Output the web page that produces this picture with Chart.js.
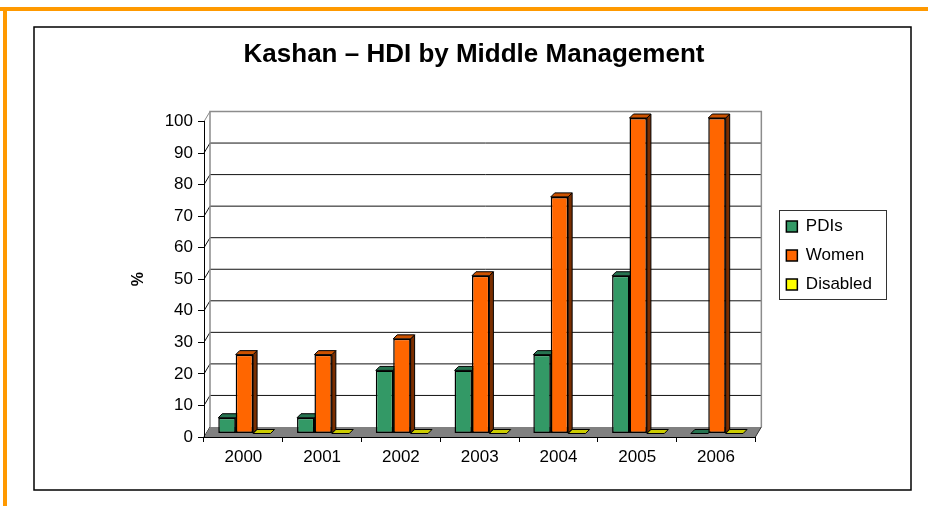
<!DOCTYPE html>
<html>
<head>
<meta charset="utf-8">
<script src="https://cdn.jsdelivr.net/npm/chart.js@4/dist/chart.umd.min.js"></script>
<style>
  html, body { margin: 0; padding: 0; background: #fff; }
  canvas { display: block; }
</style>
</head>
<body>
<canvas id="c" width="928" height="506"></canvas>
<script>
// ---- data ----
const chartTitle = 'Kashan \u2013 HDI by Middle Management';
const years = ['2000', '2001', '2002', '2003', '2004', '2005', '2006'];
const seriesNames = ['PDIs', 'Women', 'Disabled'];
const pdis = [5, 5, 20, 20, 25, 50, 0];
const women = [25, 25, 30, 50, 75, 100, 100];
const disabled = [0, 0, 0, 0, 0, 0, 0];
const yAxisTitle = '%';
const yMin = 0, yMax = 100, yStep = 10;

// ---- styles ----
const FONT = 'Liberation Sans, Arial, Helvetica, sans-serif';
const fronts = ['#339966', '#FF6600', '#FFFF00'];
const tops = ['#267350', '#CC5200', '#CCCC00'];
const sides = ['#1A4D33', '#7A2E00', '#999900'];
const WALL = { dx: 6, dy: -10 };
const BAR = { sx: 1, sy: -3.5, dx: 4, dy: -4 };

const threeD = {
  id: 'threeD',
  beforeDraw(chart) {
    const { ctx, chartArea: a, scales: { y } } = chart;
    ctx.save();
    // outer frame
    ctx.fillStyle = '#FF9900';
    ctx.fillRect(0, 7, 928, 4);
    ctx.fillRect(3, 7, 4, 499);
    ctx.strokeStyle = '#000';
    ctx.lineWidth = 1.5;
    ctx.strokeRect(34, 27, 877, 463);

    // back wall gridlines
    const wl = a.left + WALL.dx, wr = a.right + WALL.dx;
    for (let v = yMin; v <= yMax; v += yStep) {
      const yv = y.getPixelForValue(v);
      if (v > yMin && v < yMax) {
        ctx.strokeStyle = '#111';
        ctx.lineWidth = 1;
        ctx.beginPath();
        ctx.moveTo(wl, yv + WALL.dy);
        ctx.lineTo(wr, yv + WALL.dy);
        ctx.stroke();
      }
      // side wall diagonal
      ctx.strokeStyle = v === yMax ? '#888' : '#111';
      ctx.lineWidth = 1;
      ctx.beginPath();
      ctx.moveTo(a.left, yv);
      ctx.lineTo(wl, yv + WALL.dy);
      ctx.stroke();
    }
    // wall borders
    ctx.strokeStyle = '#8c8c8c';
    ctx.lineWidth = 1.5;
    ctx.beginPath();
    ctx.moveTo(wl, a.bottom + WALL.dy);
    ctx.lineTo(wl, a.top + WALL.dy);
    ctx.lineTo(wr, a.top + WALL.dy);
    ctx.lineTo(wr, a.bottom + WALL.dy);
    ctx.stroke();
    // floor
    ctx.fillStyle = '#808080';
    ctx.beginPath();
    ctx.moveTo(a.left, a.bottom);
    ctx.lineTo(a.right, a.bottom);
    ctx.lineTo(wr, a.bottom + WALL.dy);
    ctx.lineTo(wl, a.bottom + WALL.dy);
    ctx.closePath();
    ctx.fill();
    ctx.strokeStyle = '#333';
    ctx.lineWidth = 1;
    ctx.beginPath();
    ctx.moveTo(a.right, a.bottom);
    ctx.lineTo(wr, a.bottom + WALL.dy);
    ctx.stroke();
    ctx.restore();
  },
  beforeDatasetsDraw(chart) {
    const { ctx } = chart;
    ctx.save();
    ctx.translate(BAR.sx, BAR.sy);
    chart.data.datasets.forEach((ds, i) => {
      const meta = chart.getDatasetMeta(i);
      meta.data.forEach(bar => {
        const L = bar.x - bar.width / 2, R = bar.x + bar.width / 2;
        const T = Math.min(bar.y, bar.base), B = Math.max(bar.y, bar.base);
        ctx.strokeStyle = '#000';
        ctx.lineWidth = 1;
        // side face
        if (B - T > 0.5) {
          ctx.fillStyle = sides[i];
          ctx.beginPath();
          ctx.moveTo(R, T);
          ctx.lineTo(R + BAR.dx, T + BAR.dy);
          ctx.lineTo(R + BAR.dx, B + BAR.dy);
          ctx.lineTo(R, B);
          ctx.closePath();
          ctx.fill();
          ctx.stroke();
        }
        // top face
        ctx.fillStyle = tops[i];
        ctx.beginPath();
        ctx.moveTo(L, T);
        ctx.lineTo(L + BAR.dx, T + BAR.dy);
        ctx.lineTo(R + BAR.dx, T + BAR.dy);
        ctx.lineTo(R, T);
        ctx.closePath();
        ctx.fill();
        ctx.stroke();
      });
    });
  },
  afterDatasetsDraw(chart) {
    chart.ctx.restore();
  },
  afterDraw(chart) {
    const hb = chart.legend && chart.legend.legendHitBoxes;
    if (!hb || !hb.length) return;
    const { ctx } = chart;
    const last = hb[hb.length - 1];
    const bx = hb[0].left - 7;
    const by = hb[0].top - 8;
    const bw = 107;
    const bh = last.top + last.height + 6 - by;
    ctx.save();
    ctx.strokeStyle = '#333';
    ctx.lineWidth = 1;
    ctx.strokeRect(Math.round(bx) + 0.5, Math.round(by) + 0.5, bw, Math.round(bh));
    ctx.restore();
  }
};

const seriesValues = [pdis, women, disabled];
const datasets = seriesNames.map((name, i) => ({
  label: name,
  data: seriesValues[i],
  backgroundColor: fronts[i],
  borderColor: '#000',
  borderWidth: 1.5,
  borderSkipped: false,
  categoryPercentage: 0.663,
  barPercentage: 1.0,
  clip: false
}));

new Chart(document.getElementById('c'), {
  type: 'bar',
  data: { labels: years, datasets },
  plugins: [threeD],
  options: {
    responsive: false,
    animation: false,
    devicePixelRatio: 1,
    layout: { padding: { left: 66, right: 46, top: 36, bottom: 31 } },
    plugins: {
      title: {
        display: true,
        text: chartTitle,
        color: '#000',
        font: { family: FONT, size: 26, weight: 'bold', lineHeight: 1.2 },
        padding: { top: 3, bottom: 51.3 }
      },
      legend: {
        position: 'right',
        align: 'center',
        labels: {
          boxWidth: 11,
          boxHeight: 11,
          padding: 12,
          color: '#000',
          font: { family: FONT, size: 17 }
        }
      },
      tooltip: { enabled: false }
    },
    scales: {
      x: {
        grid: { drawOnChartArea: false, tickLength: 5, color: '#000', offset: true },
        border: { display: true, color: '#000', width: 1 },
        ticks: { color: '#000', font: { family: FONT, size: 17 }, padding: 5, maxRotation: 0 },
        afterFit: s => { s.height = 38; }
      },
      y: {
        min: yMin,
        max: yMax,
        ticks: { stepSize: yStep, color: '#000', font: { family: FONT, size: 17 }, padding: 5 },
        grid: { drawOnChartArea: false, tickLength: 6, color: '#000' },
        border: { display: true, color: '#000', width: 1 },
        title: {
          display: true,
          text: yAxisTitle,
          color: '#000',
          font: { family: FONT, size: 16, weight: 'bold' },
          padding: { top: 63, bottom: 0 }
        },
        afterFit: s => { s.width = 138; }
      },
      y2: {
        position: 'right',
        display: true,
        grid: { display: false },
        border: { display: false },
        ticks: { display: false },
        afterFit: s => { s.width = 19; }
      }
    }
  }
});
</script>
</body>
</html>
